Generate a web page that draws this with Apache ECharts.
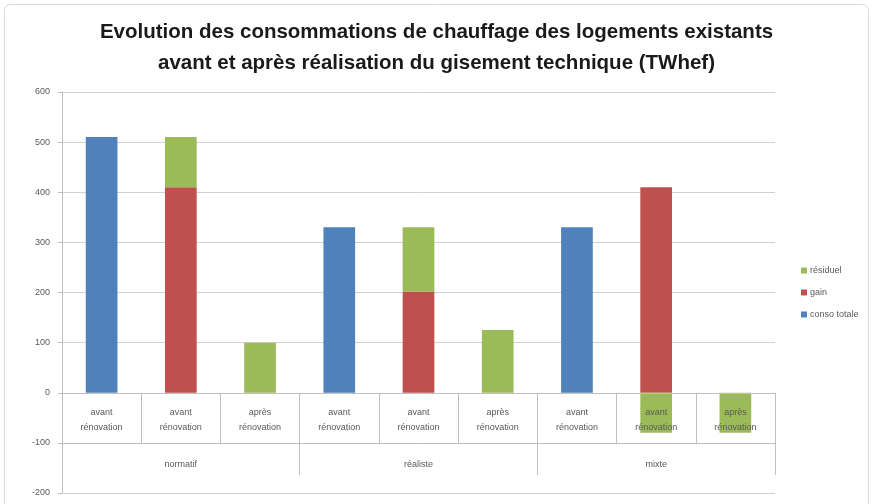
<!DOCTYPE html>
<html><head><meta charset="utf-8">
<script src="https://cdn.jsdelivr.net/npm/echarts@6/dist/echarts.min.js"></script>
<style>html,body{margin:0;padding:0;background:#fff}#c{width:873px;height:504px}</style>
</head><body><div id="c"></div>
<script>
var titleLines = ['Evolution des consommations de chauffage des logements existants', 'avant et après réalisation du gisement technique (TWhef)'];
var categories = ['avant\nrénovation','avant\nrénovation','après\nrénovation','avant\nrénovation','avant\nrénovation','après\nrénovation','avant\nrénovation','avant\nrénovation','après\nrénovation'];
var groups = ['normatif','réaliste','mixte'];
var consoTotale = [510, null, null, 330, null, null, 330, null, null];
var gain = [null, 410, null, null, 202, null, null, 410, null];
var residuel = [null, 100, 100, null, 128, 125, null, -80, -80];
var seriesNames = ['conso totale', 'gain', 'résiduel'];
var legendOrder = ['résiduel', 'gain', 'conso totale'];
var colors = ['#4F81BD', '#C0504D', '#9BBB59'];

var chart = echarts.init(document.getElementById('c'));
var axisGray = '#bfbfbf';
var labelColor = '#595959';
var font = 'Liberation Sans';
chart.setOption({
  animation: false,
  textStyle: {fontFamily: font},
  graphic: [{type: 'rect', shape: {x: 4.5, y: 4.5, width: 864, height: 520, r: 6}, style: {fill: 'none', stroke: '#d9d9d9', lineWidth: 1}, z: -1}],
  title: {text: titleLines.join('\n'), left: 'center', top: 12,
    textStyle: {fontFamily: font, fontSize: 20.5, fontWeight: 'bold', color: '#1a1a1a', lineHeight: 31}},
  legend: {data: legendOrder, orient: 'vertical', left: 796, top: 261, itemWidth: 6, itemHeight: 6, itemGap: 13,
    icon: 'rect', textStyle: {fontSize: 9, color: labelColor, fontFamily: font, padding: [0, 0, 0, -2]}},
  grid: {left: 62, right: 98, top: 92, bottom: 11, containLabel: false, outerBoundsMode: 'none'},
  xAxis: [{
    type: 'category', data: categories, z: 10, position: 'bottom', offset: -100,
    axisLine: {onZero: false, lineStyle: {color: axisGray}},
    axisTick: {show: true, length: 50, lineStyle: {color: axisGray}},
    axisLabel: {interval: 0, fontSize: 9, color: labelColor, lineHeight: 15, margin: 12}
  }, {
    type: 'category', data: groups, position: 'bottom', offset: -50, z: 10,
    axisLine: {onZero: false, lineStyle: {color: axisGray}},
    axisTick: {show: true, length: 32, lineStyle: {color: axisGray}},
    axisLabel: {interval: 0, fontSize: 9, color: labelColor, margin: 17}
  }],
  yAxis: {type: 'value', min: -200, max: 600, interval: 100,
    axisLine: {show: true, lineStyle: {color: axisGray}},
    axisTick: {show: true, length: 4, lineStyle: {color: axisGray}},
    axisLabel: {fontSize: 9, color: labelColor, margin: 12},
    splitLine: {lineStyle: {color: '#d0d0d0'}}},
  series: [
    {name: seriesNames[0], type: 'bar', stack: 's', data: consoTotale, barWidth: '40%', itemStyle: {color: colors[0]}},
    {name: seriesNames[1], type: 'bar', stack: 's', data: gain, barWidth: '40%', itemStyle: {color: colors[1]}},
    {name: seriesNames[2], type: 'bar', stack: 's', data: residuel, barWidth: '40%', itemStyle: {color: colors[2]}}
  ]
});
</script></body></html>
